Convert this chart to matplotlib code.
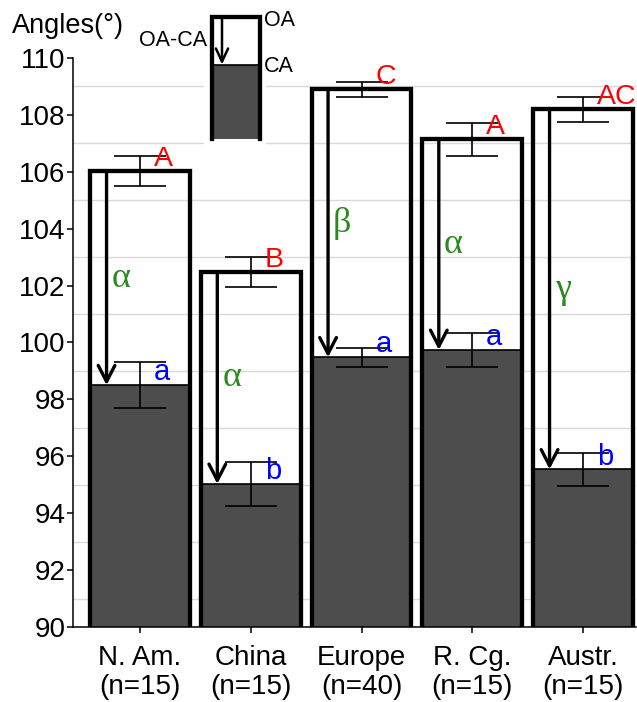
import numpy as np
import matplotlib
matplotlib.use("Agg")
import matplotlib.pyplot as plt
from matplotlib.patches import Rectangle, FancyArrowPatch
from matplotlib.lines import Line2D

plt.rcParams['font.family'] = ['Liberation Sans', 'DejaVu Sans']

# data
regions = ['N. Am.', 'China', 'Europe', 'R. Cg.', 'Austr.']
n_samples = [15, 15, 40, 15, 15]
oa_mean = [106.02, 102.49, 108.9, 107.15, 108.2]
oa_err = [0.52, 0.53, 0.27, 0.58, 0.44]
ca_mean = [98.5, 95.03, 99.48, 99.74, 95.54]
ca_err = [0.8, 0.77, 0.34, 0.59, 0.59]
oa_groups = ['A', 'B', 'C', 'A', 'AC']
ca_groups = ['a', 'b', 'a', 'a', 'b']
diff_groups = ['α', 'α', 'β', 'α', 'γ']

dark = '#4d4d4d'
green = '#2a8a1e'

W, H = 637, 702
fig = plt.figure(figsize=(W / 100, H / 100), dpi=100)
ax = fig.add_axes([73 / W, 75 / H, (636 - 73) / W, (627 - 58) / H])

x = np.arange(len(regions))
width = 0.9

# CA bars (filled) then OA bars (outline only)
ax.bar(x, ca_mean, width, color=dark, edgecolor='black', linewidth=1.2, zorder=2)
ax.bar(x, oa_mean, width, facecolor='none', edgecolor='black', linewidth=3.1, zorder=3)

ax.errorbar(x, oa_mean, yerr=oa_err, fmt='none', ecolor='black',
            elinewidth=1.2, capsize=19, capthick=1.2, zorder=4)
ax.errorbar(x, ca_mean, yerr=ca_err, fmt='none', ecolor='black',
            elinewidth=1.2, capsize=19, capthick=1.2, zorder=4)

# arrows OA -> CA
for i in range(len(regions)):
    xa = x[i] - 0.302
    arr = FancyArrowPatch((xa, oa_mean[i]), (xa, ca_mean[i]),
                          arrowstyle='->,head_length=0.58,head_width=0.3',
                          mutation_scale=20, lw=2.4, color='black',
                          shrinkA=0, shrinkB=0, zorder=5)
    ax.add_patch(arr)
    ax.annotate(diff_groups[i], xy=(xa, (oa_mean[i] + ca_mean[i]) / 2),
                xytext=(3.6, 0), textcoords='offset points',
                ha='left', va='center', color=green, fontsize=26,
                family=['Liberation Serif', 'DejaVu Serif'], zorder=6)
    ax.annotate(oa_groups[i], xy=(x[i], oa_mean[i]), xytext=(10, 3.5),
                textcoords='offset points', ha='left', va='baseline',
                color='red', fontsize=20.5, zorder=6, annotation_clip=False)
    ax.annotate(ca_groups[i], xy=(x[i], ca_mean[i]), xytext=(10, 3.5),
                textcoords='offset points', ha='left', va='baseline',
                color='blue', fontsize=21, zorder=6)

ax.set_xlim((73 - 140) / 110.75, (636 - 140) / 110.75)
ax.set_ylim(90, 110)
ax.set_yticks(np.arange(90, 111, 2))
ax.set_yticks(np.arange(91, 110, 2), minor=True)
ax.grid(which='minor', axis='y', color='#d9d9d9', linewidth=1.0, zorder=0)
ax.set_axisbelow(True)
ax.set_xticks(x)
ax.set_xticklabels([f'{r}\n(n={k})' for r, k in zip(regions, n_samples)],
                   linespacing=1.15)
ax.tick_params(axis='both', which='major', labelsize=20, length=4, width=1.1,
               direction='out', pad=1.5)
ax.tick_params(axis='x', pad=9)
ax.tick_params(which='minor', length=0)
for s in ['top', 'right']:
    ax.spines[s].set_visible(False)
for s in ['left', 'bottom']:
    ax.spines[s].set_linewidth(1.1)

fig.text(12 / W, 1 - 33 / H, 'Angles(°)', fontsize=19.5, ha='left', va='baseline')

# key in the top
def fx(px):
    return px / W

def fy(py):
    return 1 - py / H

fig.add_artist(Rectangle((fx(204), fy(146)), 62 / W, 136 / H,
                         transform=fig.transFigure, facecolor='white',
                         edgecolor='none', zorder=5))
fig.add_artist(Rectangle((fx(212), fy(139)), 48 / W, (139 - 64.5) / H,
                         transform=fig.transFigure, facecolor=dark,
                         edgecolor='none', zorder=6))
fig.add_artist(Line2D([fx(212), fx(260)], [fy(64.5), fy(64.5)],
                      transform=fig.transFigure, color='black', lw=1.2, zorder=7))
fig.add_artist(Line2D([fx(212), fx(212), fx(260), fx(260)],
                      [fy(139), fy(16.5), fy(16.5), fy(139)],
                      transform=fig.transFigure, color='black', lw=3.1,
                      solid_joinstyle='miter', zorder=7))
fig.add_artist(FancyArrowPatch((fx(222), fy(16.5)), (fx(222), fy(64.5)),
                               transform=fig.transFigure,
                               arrowstyle='->,head_length=0.47,head_width=0.22',
                               mutation_scale=20, lw=1.8, color='black',
                               shrinkA=0, shrinkB=0, zorder=8))
fig.text(fx(264), fy(21), 'OA', fontsize=15.5, ha='left', va='center', zorder=8)
fig.text(fx(264), fy(67), 'CA', fontsize=15.5, ha='left', va='center', zorder=8)
fig.text(fx(207), fy(40), 'OA-CA', fontsize=15.5, ha='right', va='center', zorder=8)

fig.savefig('out.png', dpi=100)
